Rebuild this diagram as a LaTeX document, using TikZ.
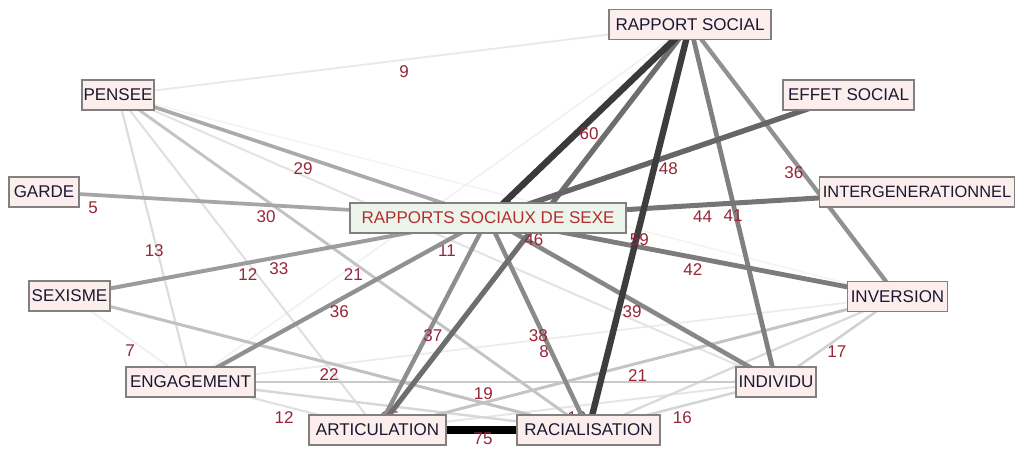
\documentclass[tikz,border=0pt]{standalone}
\usepackage{fontspec}
\setmainfont{Liberation Sans}
\usetikzlibrary{backgrounds}
\definecolor{nodefill}{RGB}{253,238,238}
\definecolor{hubfill}{RGB}{237,244,235}
\definecolor{nodeline}{RGB}{128,128,128}
\definecolor{nodetext}{RGB}{25,25,50}
\definecolor{hubtext}{RGB}{178,48,48}
\definecolor{weighttext}{RGB}{150,38,56}
\tikzset{
  term/.style={draw=nodeline, line width=1.5pt, fill=nodefill, text=nodetext,
    font=\fontsize{17}{19}\selectfont, minimum height=30pt, inner xsep=1pt, inner ysep=0pt},
  hub/.style={term, fill=hubfill, text=hubtext},
  wt/.code={\pgfmathsetmacro\shade{100*(#1/75)^1.15}\pgfmathsetmacro\thick{1+#1/11}%
    \tikzset{draw=black!\shade, line width=\thick pt}},
  wlab/.style={text=weighttext, font=\fontsize{17}{19}\selectfont, inner sep=0pt},
  elab/.style={wlab, midway, yshift=-12pt}
}
\begin{document}
\begin{tikzpicture}[x=1pt,y=-1pt]
\useasboundingbox (0,0) rectangle (1017,448);
\node[term, minimum width=162pt] (rs) at (690,24.5) {RAPPORT SOCIAL};
\node[term, minimum width=72pt] (pe) at (118,95) {PENSEE};
\node[term, minimum width=131pt] (es) at (848.5,95) {EFFET SOCIAL};
\node[term, minimum width=70pt] (ga) at (44,192) {GARDE};
\node[term, minimum width=195pt, font=\fontsize{16.4}{19}\selectfont] (ig) at (917,192) {INTERGENERATIONNEL};
\node[hub, minimum width=276pt] (rss) at (488,218) {RAPPORTS SOCIAUX DE SEXE};
\node[term, minimum width=81pt] (sx) at (69.5,296) {SEXISME};
\node[term, minimum width=100pt] (iv) at (897.5,296.5) {INVERSION};
\node[term, minimum width=129pt] (en) at (190.5,382) {ENGAGEMENT};
\node[term, minimum width=80pt] (id) at (776,382) {INDIVIDU};
\node[term, minimum width=137pt] (ar) at (377.5,430) {ARTICULATION};
\node[term, minimum width=143pt] (ra) at (588.5,430) {RACIALISATION};
\begin{pgfonlayer}{background}
\fill[white] (0,0) rectangle (1017,448);
\draw[wt=5] (pe.center) -- node[elab]{5} (iv.center);
\draw[wt=6] (rs.center) -- node[elab]{6} (en.center);
\draw[wt=7] (sx.center) -- node[elab]{7} (en.center);
\draw[wt=8] (en.center) -- node[elab]{8} (iv.center);
\draw[wt=9] (pe.center) -- node[elab]{9} (rs.center);
\draw[wt=10] (ar.center) -- node[elab]{10} (id.center);
\draw[wt=11] (pe.center) -- node[elab]{11} (id.center);
\draw[wt=12] (pe.center) -- node[elab]{12} (ar.center);
\draw[wt=12] (en.center) -- node[elab]{12} (ar.center);
\draw[wt=13] (pe.center) -- node[elab]{13} (en.center);
\draw[wt=14] (iv.center) -- node[elab]{14} (ra.center);
\draw[wt=15] (en.center) -- node[elab]{15} (ra.center);
\draw[wt=16] (ra.center) -- node[elab]{16} (id.center);
\draw[wt=17] (iv.center) -- node[elab]{17} (id.center);
\draw[wt=19] (en.center) -- node[elab]{19} (id.center);
\draw[wt=21] (pe.center) -- node[elab]{21} (ra.center);
\draw[wt=21] (ar.center) -- node[elab]{21} (iv.center);
\draw[wt=22] (sx.center) -- node[elab]{22} (ra.center);
\draw[wt=29] (pe.center) -- node[elab]{29} (rss.center);
\draw[wt=30] (ga.center) -- node[elab]{30} (rss.center);
\draw[wt=33] (sx.center) -- node[elab]{33} (rss.center);
\draw[wt=36] (rs.center) -- node[elab]{36} (iv.center);
\draw[wt=36] (rss.center) -- node[elab]{36} (en.center);
\draw[wt=37] (rss.center) -- node[elab]{37} (ar.center);
\draw[wt=38] (rss.center) -- node[elab]{38} (ra.center);
\draw[wt=39] (rss.center) -- node[elab]{39} (id.center);
\draw[wt=41] (rs.center) -- node[elab]{41} (id.center);
\draw[wt=42] (rss.center) -- node[elab]{42} (iv.center);
\draw[wt=44] (ig.center) -- node[elab]{44} (rss.center);
\draw[wt=46] (rs.center) -- node[elab]{46} (ar.center);
\draw[wt=48] (es.center) -- node[elab]{48} (rss.center);
\draw[wt=59] (rs.center) -- node[elab]{59} (ra.center);
\draw[wt=60] (rs.center) -- node[elab]{60} (rss.center);
\draw[wt=75] (ar.center) -- node[elab, yshift=3pt]{75} (ra.center);
\node[wlab] (gardelab) at (93,208) {5};
\end{pgfonlayer}
\end{tikzpicture}
\end{document}
